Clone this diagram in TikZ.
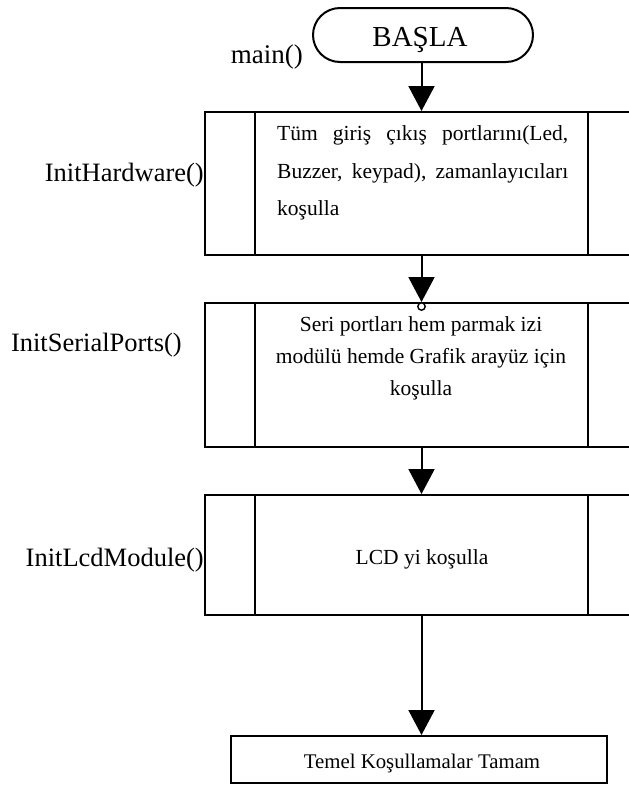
\documentclass[tikz,border=0pt]{standalone}
\usepackage{fontspec}
\setmainfont{Liberation Serif}
\usetikzlibrary{arrows.meta}

\tikzset{
  stroke/.style={line width=2pt, draw=black},
  terminal/.style={stroke, rectangle, rounded corners=27pt, minimum width=220pt, minimum height=54pt, inner sep=0pt},
  procbox/.style={stroke, rectangle, minimum width=433pt, inner sep=0pt},
  plainbox/.style={stroke, rectangle, minimum width=376pt, minimum height=47pt, inner sep=0pt},
  sidebar/.style={line width=1.7pt},
  flow/.style={line width=2pt, -{Triangle[width=26pt,length=25pt]}},
  funclabel/.style={anchor=base east, inner sep=0pt, font=\fontsize{26.5pt}{30pt}\selectfont},
  boxtext/.style={anchor=base, inner sep=0pt, font=\fontsize{21.5pt}{26pt}\selectfont},
}

\begin{document}
\begin{tikzpicture}[x=1pt, y=-1pt]
  \path[clip] (0,0) rectangle (629,785);
  \fill[white] (0,0) rectangle (629,785);

  % start terminal
  \node[terminal] (start) at (423,35) {};
  \node[anchor=base, inner sep=0pt, font=\fontsize{29pt}{32pt}\selectfont] (starttxt) at (420,46) {BAŞLA};
  \node[anchor=base east, inner sep=0pt, font=\fontsize{27pt}{30pt}\selectfont] (mainlbl) at (303,63) {main()};

  % predefined-process boxes
  \node[procbox, minimum height=143pt] (hw) at (421.5,183.5) {};
  \node[procbox, minimum height=144pt] (ser) at (421.5,375) {};
  \node[procbox, minimum height=120pt] (lcd) at (421.5,555) {};
  \foreach \b in {hw,ser,lcd}{
    \draw[sidebar] ([xshift=51pt]\b.north west) -- ([xshift=51pt]\b.south west);
    \draw[sidebar] ([xshift=-51pt]\b.north east) -- ([xshift=-51pt]\b.south east);
  }

  % final box
  \node[plainbox] (done) at (419,759.5) {};

  % function labels
  \node[funclabel] (lblhw) at (204,181) {InitHardware()};
  \node[funclabel] (lblser) at (182,351) {InitSerialPorts()};
  \node[funclabel] (lbllcd) at (204,566) {InitLcdModule()};

  % box texts
  \node[boxtext, anchor=base west] (hw1) at (277,140) {\makebox[291pt][s]{Tüm giriş çıkış portlarını(Led,}};
  \node[boxtext, anchor=base west] (hw2) at (277,178) {\makebox[291pt][s]{Buzzer, keypad), zamanlayıcıları}};
  \node[boxtext, anchor=base west] (hw3) at (277,215) {koşulla};

  \node[boxtext] (ser1) at (421,331) {Seri portları hem parmak izi};
  \node[boxtext] (ser2) at (421,363) {modülü hemde Grafik arayüz için};
  \node[boxtext] (ser3) at (421,395) {koşulla};

  \node[boxtext] (lcd1) at (422,564) {LCD yi koşulla};

  \node[boxtext, font=\fontsize{20.8pt}{24pt}\selectfont] (donetxt) at (422,768) {Temel Koşullamalar Tamam};

  % connectors
  \draw[flow] (start.south -| hw.north) -- (hw.north);
  \draw[flow] (hw.south) -- (ser.north);
  \draw[line width=1.4pt, fill=white] ([yshift=-4.5pt]ser.north) circle (3.7pt);
  \draw[flow] (ser.south) -- (lcd.north);
  \draw[flow] (lcd.south) -- (lcd.south |- done.north);
\end{tikzpicture}
\end{document}
